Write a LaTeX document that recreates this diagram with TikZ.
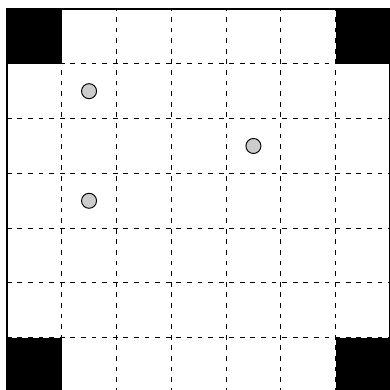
\documentclass[tikz,border=0pt]{standalone}
\usepackage{tikz}

\begin{document}
\begin{tikzpicture}[x=1cm, y=1cm,
    gridline/.style={line width=0.5pt, dash pattern=on 2.5pt off 3pt},
    corner/.style={fill=black},
    stone/.style={draw=black, line width=0.5pt, fill=black!20}]
  \useasboundingbox (-0.125,0.065) rectangle (6.992,7.164);
  \foreach \i in {1,...,6}
    \draw[gridline] (\i,0) -- (\i,7);
  \foreach \i in {1,...,6}
    \draw[gridline] (0,\i) -- (7,\i);

  \foreach \x/\y in {0/6, 6/6, 0/0, 6/0}
    \fill[corner] (\x,\y) rectangle ++(1,1);
  \draw[line width=1.2pt] (0,0) rectangle (7,7);

  \foreach \x/\y in {1.5/5.5, 4.5/4.5, 1.5/3.5}
    \draw[stone] (\x,\y) circle (0.137);
\end{tikzpicture}
\end{document}
